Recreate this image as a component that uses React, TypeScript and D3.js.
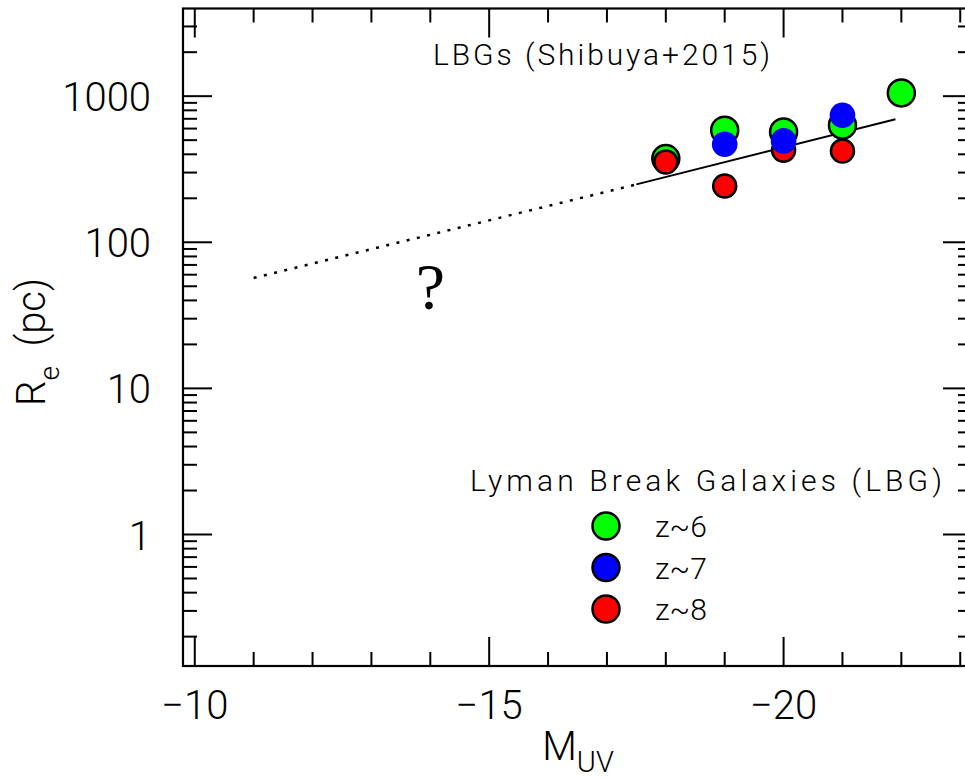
import React from "react";
import * as d3 from "d3";

const W = 965;
const H = 779;

// Data
const z6MUV = [-18, -19, -20, -21, -22];
const z6Re = [374, 585, 569, 633, 1053];
const z7MUV = [-19, -20, -21];
const z7Re = [469, 494, 741];
const z8MUV = [-18, -19, -20, -21];
const z8Re = [355, 243, 426, 422];
const fitSolidMUV = [-17.5, -21.9];
const fitSolidRe = [249, 695];
const fitDottedMUV = [-11, -17.5];
const fitDottedRe = [57, 249];

const xMajorTicks = [-10, -15, -20];
const xTickLabels = ["\u221210", "\u221215", "\u221220"];
const yMajorTicks = [1, 10, 100, 1000];
const yTickLabels = ["1", "10", "100", "1000"];

const legendTitle = "Lyman Break Galaxies (LBG)";
const legendLabels = ["z~6", "z~7", "z~8"];
const legendColors = ["#00ff00", "#0000ff", "#ff0000"];
const plotTitle = "LBGs (Shibuya+2015)";

const FONT = "Roboto, 'DejaVu Sans', sans-serif";

export default function App() {
  const x = d3.scaleLinear().domain([-9.8, -23.2]).range([183, 972]);
  const y = d3
    .scaleLog()
    .domain([Math.pow(10, -0.9), Math.pow(10, 3.6)])
    .range([666, 8.5]);
  const [x0, x1] = x.range();
  const [y0, y1] = y.range();

  const xMinor = d3.range(-10, -24, -1).filter((v) => v <= -9.8 && v >= -23.2);
  const yMinor: number[] = [];
  [0.1, 1, 10, 100, 1000].forEach((dec) => {
    for (let m = 2; m <= 9; m++) {
      const v = m * dec;
      if (v >= y.domain()[0] && v <= y.domain()[1]) yMinor.push(v);
    }
  });

  const MAJ = 29;
  const MIN = 14;

  const line = d3
    .line<[number, number]>()
    .x((d) => x(d[0]))
    .y((d) => y(d[1]));

  const solidPts = fitSolidMUV.map((m, i) => [m, fitSolidRe[i]] as [number, number]);
  const dottedPts = fitDottedMUV.map((m, i) => [m, fitDottedRe[i]] as [number, number]);

  const tickStroke = { stroke: "#000", strokeWidth: 2 };

  return (
    <svg
      width={W}
      height={H}
      style={{ position: "absolute", left: 0, top: 0, background: "#fff" }}
      fontFamily={FONT}
    >
      <rect x={0} y={0} width={W} height={H} fill="#fff" />
      {/* frame */}
      <rect
        x={x0}
        y={y1}
        width={x1 - x0}
        height={y0 - y1}
        fill="none"
        stroke="#000"
        strokeWidth={2.2}
      />
      {/* x ticks bottom & top */}
      {xMinor.map((v) => {
        const len = xMajorTicks.includes(v) ? MAJ : MIN;
        return (
          <g key={"xt" + v}>
            <line x1={x(v)} x2={x(v)} y1={y0} y2={y0 - len} {...tickStroke} />
            <line x1={x(v)} x2={x(v)} y1={y1} y2={y1 + len} {...tickStroke} />
          </g>
        );
      })}
      {/* y ticks left & right */}
      {yMajorTicks.map((v) => (
        <g key={"ytM" + v}>
          <line x1={x0} x2={x0 + MAJ} y1={y(v)} y2={y(v)} {...tickStroke} />
          <line x1={x1} x2={x1 - MAJ} y1={y(v)} y2={y(v)} {...tickStroke} />
        </g>
      ))}
      {yMinor.map((v) => (
        <g key={"ytm" + v}>
          <line x1={x0} x2={x0 + MIN} y1={y(v)} y2={y(v)} {...tickStroke} />
          <line x1={x1} x2={x1 - MIN} y1={y(v)} y2={y(v)} {...tickStroke} />
        </g>
      ))}
      {/* tick labels */}
      {xMajorTicks.map((v, i) => (
        <text
          key={"xl" + v}
          x={x(v)}
          y={719}
          textAnchor="middle"
          fontSize={40}
          fontWeight={300}
        >
          {xTickLabels[i]}
        </text>
      ))}
      {yMajorTicks.map((v, i) => (
        <text
          key={"yl" + v}
          x={151}
          y={y(v) + 15}
          textAnchor="end"
          fontSize={40}
          fontWeight={300}
        >
          {yTickLabels[i]}
        </text>
      ))}
      {/* axis titles */}
      <text x={578} y={760} textAnchor="middle" fontSize={40} fontWeight={300}>
        M
        <tspan fontSize={29} dy={12}>
          UV
        </tspan>
      </text>
      <text
        transform={`translate(45, 406) rotate(-90)`}
        textAnchor="start"
        fontSize={40}
        fontWeight={300}
      >
        R
        <tspan fontSize={28} dy={14}>
          e
        </tspan>
        <tspan dy={-14}>{"\u00a0\u00a0(pc)"}</tspan>
      </text>
      {/* fit lines */}
      <path
        d={line(dottedPts) || ""}
        fill="none"
        stroke="#000"
        strokeWidth={2.5}
        strokeDasharray="3 7.5"
      />
      <path d={line(solidPts) || ""} fill="none" stroke="#000" strokeWidth={2} />
      {/* question mark */}
      <text
        x={x(-14)}
        y={y(35)}
        textAnchor="middle"
        fontSize={66}
        fontFamily="'Liberation Serif', serif"
      >
        ?
      </text>
      {/* data */}
      {z6MUV.map((m, i) => (
        <circle
          key={"g" + i}
          cx={x(m)}
          cy={y(z6Re[i])}
          r={13.5}
          fill={legendColors[0]}
          stroke="#000"
          strokeWidth={2.5}
        />
      ))}
      {z8MUV.map((m, i) => (
        <circle
          key={"r" + i}
          cx={x(m)}
          cy={y(z8Re[i])}
          r={11.5}
          fill={legendColors[2]}
          stroke="#000"
          strokeWidth={2.5}
        />
      ))}
      {z7MUV.map((m, i) => (
        <circle
          key={"b" + i}
          cx={x(m)}
          cy={y(z7Re[i])}
          r={12.8}
          fill={legendColors[1]}
        />
      ))}
      {/* title */}
      <text x={433} y={65} fontSize={30} fontWeight={300} textLength={337} lengthAdjust="spacing">
        {plotTitle}
      </text>
      {/* legend */}
      <text x={470} y={491} fontSize={30} fontWeight={300} textLength={472} lengthAdjust="spacing">
        {legendTitle}
      </text>
      {legendLabels.map((lab, i) => {
        const cy = 526 + i * 41.5;
        return (
          <g key={"lg" + i}>
            <circle
              cx={606}
              cy={cy}
              r={13.5}
              fill={legendColors[i]}
              stroke="#000"
              strokeWidth={2.5}
            />
            <text x={655} y={cy + 11} fontSize={30} fontWeight={300}>
              {lab}
            </text>
          </g>
        );
      })}
    </svg>
  );
}
